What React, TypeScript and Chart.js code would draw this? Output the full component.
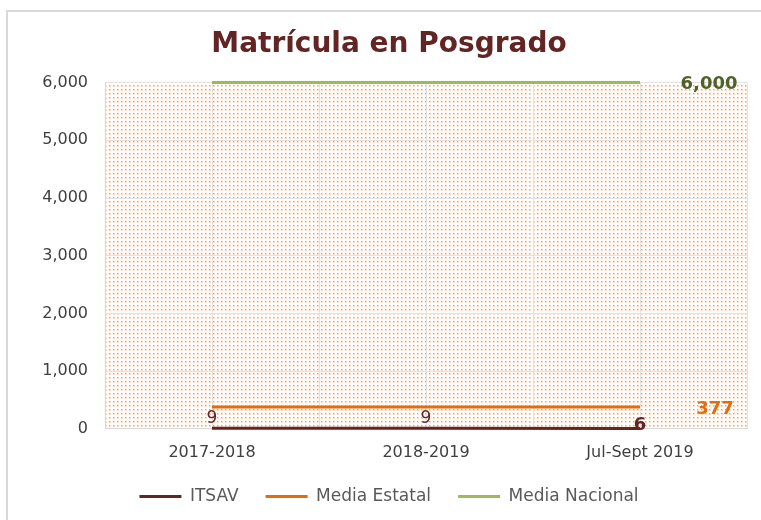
import React, { useEffect, useRef } from "react";
import { Chart, registerables } from "chart.js";

Chart.register(...registerables);

const categories = ["2017-2018", "2018-2019", "Jul-Sept 2019"];
const itsav = [9, 9, 6];
const mediaEstatal = [377, 377, 377];
const mediaNacional = [6000, 6000, 6000];
const yTicks = [0, 1000, 2000, 3000, 4000, 5000, 6000];

const FONT = "'DejaVu Sans', Verdana, sans-serif";

const backgroundPlugin = {
  id: "bgPattern",
  beforeDraw(chart: any) {
    const { ctx, chartArea, width, height } = chart;
    ctx.save();
    ctx.fillStyle = "#ffffff";
    ctx.fillRect(0, 0, width, height);
    // outer border
    ctx.strokeStyle = "#D9D9D9";
    ctx.lineWidth = 2;
    ctx.beginPath();
    ctx.moveTo(7, height + 2);
    ctx.lineTo(7, 11);
    ctx.lineTo(width + 4, 11);
    ctx.stroke();
    // dotted pattern
    const tile = document.createElement("canvas");
    tile.width = 4;
    tile.height = 4;
    const tctx = tile.getContext("2d")!;
    tctx.fillStyle = "#FDD9BC";
    tctx.fillRect(1, 1, 2, 2);
    tctx.fillStyle = "#F89B53";
    tctx.fillRect(1, 1, 1, 1);
    const pat = ctx.createPattern(tile, "repeat");
    ctx.fillStyle = pat;
    ctx.fillRect(chartArea.left, chartArea.top, chartArea.right - chartArea.left, chartArea.bottom - chartArea.top);
    // vertical gridlines at category centers and boundaries
    const xs = chart.scales.x;
    ctx.strokeStyle = "#E3E3E3";
    ctx.lineWidth = 1;
    const n = categories.length;
    const half = (chartArea.right - chartArea.left) / n / 2;
    for (let i = 0; i < n; i++) {
      const c = xs.getPixelForValue(i);
      [c - half, c, c + half].forEach((x) => {
        const px = Math.round(x) + 0.5;
        ctx.beginPath();
        ctx.moveTo(px, chartArea.top);
        ctx.lineTo(px, chartArea.bottom);
        ctx.stroke();
      });
    }
    ctx.restore();
  },
};

const labelPlugin = {
  id: "dataLabels",
  afterDatasetsDraw(chart: any) {
    const { ctx } = chart;
    ctx.save();
    ctx.textAlign = "center";
    ctx.textBaseline = "middle";
    const m0 = chart.getDatasetMeta(0);
    m0.data.forEach((pt: any, i: number) => {
      const last = i === m0.data.length - 1;
      ctx.fillStyle = "#632523";
      ctx.font = (last ? "bold 18px " : "17px ") + FONT;
      ctx.fillText(String(itsav[i]), pt.x, pt.y + (last ? -3 : -10));
    });
    const m1 = chart.getDatasetMeta(1);
    const p1 = m1.data[m1.data.length - 1];
    ctx.fillStyle = "#E46C0A";
    ctx.font = "bold 18px " + FONT;
    ctx.fillText(String(mediaEstatal[mediaEstatal.length - 1]), p1.x + 75, p1.y + 2);
    const m2 = chart.getDatasetMeta(2);
    const p2 = m2.data[m2.data.length - 1];
    ctx.fillStyle = "#4F6228";
    ctx.font = "bold 18px " + FONT;
    ctx.fillText(mediaNacional[mediaNacional.length - 1].toLocaleString("en-US"), p2.x + 69, p2.y + 2);
    ctx.restore();
  },
};

export default function App() {
  const ref = useRef<HTMLCanvasElement | null>(null);
  useEffect(() => {
    if (!ref.current) return;
    const chart = new Chart(ref.current, {
      type: "line",
      data: {
        labels: categories,
        datasets: [
          {
            label: "ITSAV",
            data: itsav,
            borderColor: "#632523",
            backgroundColor: "#632523",
            borderWidth: 3,
            pointRadius: 0,
            clip: false,
          },
          {
            label: "Media Estatal",
            data: mediaEstatal,
            borderColor: "#E46C0A",
            backgroundColor: "#E46C0A",
            borderWidth: 3,
            pointRadius: 0,
            clip: false,
          },
          {
            label: "Media Nacional",
            data: mediaNacional,
            borderColor: "#9BBB59",
            backgroundColor: "#9BBB59",
            borderWidth: 3,
            pointRadius: 0,
            clip: false,
          },
        ],
      },
      options: {
        animation: false,
        responsive: true,
        maintainAspectRatio: false,
        layout: { padding: { left: 31, right: 14, top: 0, bottom: 5 } },
        plugins: {
          title: {
            display: true,
            text: "Matrícula en Posgrado",
            color: "#632523",
            font: { family: FONT, size: 28, weight: "bold" },
            padding: { top: 28, bottom: 21 },
          },
          legend: {
            position: "bottom",
            labels: {
              boxWidth: 42,
              boxHeight: 3,
              padding: 27,
              color: "#595959",
              font: { family: FONT, size: 17 },
              generateLabels: (c: any) =>
                (Chart as any).defaults.plugins.legend.labels
                  .generateLabels(c)
                  .map((l: any) => ({ ...l, lineWidth: 0 })),
            },
          },
          tooltip: { enabled: false },
        },
        scales: {
          x: {
            offset: true,
            grid: { display: false, drawTicks: false },
            border: { display: true, color: "#D9D9D9" },
            ticks: { color: "#404040", font: { family: FONT, size: 16 }, padding: 14 },
            afterFit: (s: any) => {
              s.height = s.height - 15;
            },
          },
          y: {
            min: 0,
            max: 6000,
            afterFit: (s: any) => {
              s.width = 74;
            },
            afterBuildTicks: (s: any) => {
              s.ticks = yTicks.map((v) => ({ value: v }));
            },
            grid: { color: "#E3E3E3", drawTicks: false },
            border: { display: true, color: "#D9D9D9" },
            ticks: {
              color: "#404040",
              font: { family: FONT, size: 16 },
              padding: 17,
              callback: (v: any) => Number(v).toLocaleString("en-US"),
            },
          },
        },
      },
      plugins: [backgroundPlugin, labelPlugin],
    });
    return () => chart.destroy();
  }, []);
  return (
    <div style={{ position: "absolute", left: 0, top: 0, width: 761, height: 520, overflow: "hidden" }}>
      <canvas ref={ref} style={{ display: "block" }} />
    </div>
  );
}
